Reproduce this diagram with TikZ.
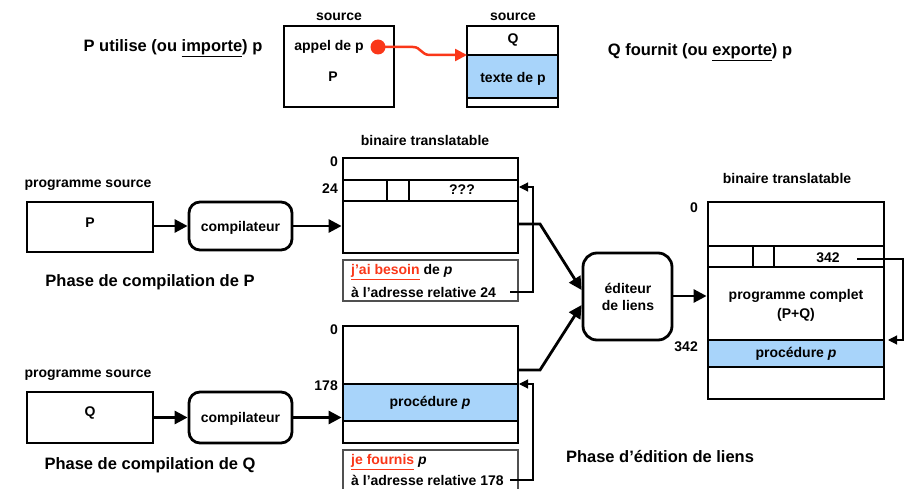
\documentclass[tikz,border=0pt]{standalone}
\usepackage{fontspec}
\setmainfont{Liberation Sans}
\usetikzlibrary{arrows.meta}
\definecolor{lblue}{RGB}{168,212,250}
\definecolor{myred}{RGB}{250,55,25}
\definecolor{notegray}{RGB}{80,80,80}
\begin{document}
\begin{tikzpicture}[x=1pt,y=-1pt,
 lbl/.style={font=\fontsize{14}{17}\selectfont\bfseries, inner sep=0},
 big/.style={font=\fontsize{16.5}{19}\selectfont\bfseries, inner sep=0},
 box/.style={draw, line width=2.8pt, inner sep=0},
 rbox/.style={box, rounded corners=11pt},
 div/.style={line width=1.1pt},
 note/.style={draw=notegray, line width=1.1pt, inner sep=0},
 arr/.style={line width=2.8pt, -{Triangle[length=13pt,width=13pt]}},
 fb/.style={line width=1.1pt, -{Triangle[length=9pt,width=9pt]}},
]
\useasboundingbox (0,0) rectangle (908,489);

% ---------- top part ----------
\node[big] (uses) at (173,48) {P utilise (ou \underline{importe}) p};
\node[big] (provides) at (700,52) {Q fournit (ou \underline{exporte}) p};

\node[box, minimum width=110, minimum height=81] (srcP) at (339,66.5) {};
\node[lbl] (srcPl) at (339,17) {source};
\node[lbl] (call) at (329,47) {appel de p};
\node[lbl] (Ptxt) at (333,77) {P};

\fill[lblue] (467,55) rectangle (558,98);
\draw[div] (467,55) -- (558,55);
\draw[div] (467,98) -- (558,98);
\node[box, minimum width=91, minimum height=81] (srcQ) at (512.5,66.5) {};
\node[lbl] (srcQl) at (513,17) {source};
\node[lbl] (Qtxt) at (513,40) {Q};
\node[lbl] (texte) at (513,79) {texte de p};

\node[circle, fill=myred, minimum size=15, inner sep=0] (dot) at (378,47) {};
\coordinate (qin) at (467,55);
\draw[myred, line width=2.5pt, -{Triangle[length=12pt,width=12pt]}]
  (dot.center) -- (413,47) .. controls (421,47) and (421,55) .. (430,55) -- (qin);

% ---------- compilation of P ----------
\node[lbl] (ps1) at (88,185) {programme source};
\node[box, minimum width=126, minimum height=50] (progP) at (90,227) {};
\node[lbl] (progPt) at (90,223) {P};
\node[rbox, minimum width=103, minimum height=48] (comp1) at (240.5,226) {};
\node[lbl] (comp1t) at (240.5,228) {compilateur};
\node[big] (phaseP) at (150,282) {Phase de compilation de P};
\draw[arr] (progP.east |- comp1.west) -- (comp1.west);

\node[lbl] (bt1) at (425,140) {binaire translatable};
\node[box, minimum width=175, minimum height=95] (bin1) at (430.5,205.5) {};
\draw[div] (343,180) -- (518,180);
\draw[div] (343,201) -- (518,201);
\draw[div] (387,180) -- (387,201);
\draw[div] (409,180) -- (409,201);
\node[lbl] (qqq) at (462,190) {???};
\node[lbl, anchor=east] (z1) at (338,162) {0};
\node[lbl, anchor=east] (a24) at (338,189) {24};
\draw[arr] (comp1.east) -- (bin1.west |- comp1.east);

\node[note, minimum width=175, minimum height=41] (note1) at (430.5,280.5) {};
\node[lbl, anchor=west] (need) at (351,272) {\textcolor{myred}{\underline{j’ai besoin}} de \textit{p}};
\node[lbl, anchor=west] (addr24) at (351,292) {à l’adresse relative 24};
\coordinate (fb1s) at (510,292);
\coordinate (fb1e) at (519,187);
\draw[fb] (fb1s) -- (533,292) -- (533,187) -- (fb1e);

% ---------- compilation of Q ----------
\node[lbl] (ps2) at (88,375) {programme source};
\node[box, minimum width=126, minimum height=51] (progQ) at (90,417.5) {};
\node[lbl] (progQt) at (90,413) {Q};
\node[rbox, minimum width=103, minimum height=51] (comp2) at (240.5,417.5) {};
\node[lbl] (comp2t) at (240.5,419) {compilateur};
\node[big] (phaseQ) at (150,465) {Phase de compilation de Q};
\draw[arr] (progQ.east |- comp2.west) -- (comp2.west);

\fill[lblue] (343,384) rectangle (518,421);
\draw[div] (343,384) -- (518,384);
\draw[div] (343,421) -- (518,421);
\node[box, minimum width=175, minimum height=117] (bin2) at (430.5,384.5) {};
\node[lbl] (proc1) at (430,403) {procédure \textit{p}};
\node[lbl, anchor=east] (z2) at (338,330) {0};
\node[lbl, anchor=east] (a178) at (338,386) {178};
\draw[arr] (comp2.east) -- (bin2.west |- comp2.east);

\node[note, minimum width=175, minimum height=40] (note2) at (430.5,470) {};
\node[lbl, anchor=west] (give) at (351,462) {\textcolor{myred}{\underline{je fournis}} \textit{p}};
\node[lbl, anchor=west] (addr178) at (351,480) {à l’adresse relative 178};
\coordinate (fb2s) at (510,480);
\coordinate (fb2e) at (519,384);
\draw[fb] (fb2s) -- (533,480) -- (533,384) -- (fb2e);

% ---------- link editing ----------
\node[rbox, rounded corners=14pt, minimum width=89, minimum height=87] (edit) at (627.5,296.5) {};
\node[lbl] (edit1) at (628,288) {éditeur};
\node[lbl] (edit2) at (628,305) {de liens};

\coordinate (b1out) at (518,224);
\coordinate (b2out) at (518,370);
\draw[arr] (b1out) -- (540,224) -- ([yshift=6.5pt]edit.west);
\draw[arr] (b2out) -- (540,370) -- ([yshift=-8.5pt]edit.west);

\node[lbl] (bt3) at (787,178) {binaire translatable};
\fill[lblue] (708,340) rectangle (884,367);
\draw[div] (708,246) -- (884,246);
\draw[div] (708,267) -- (884,267);
\draw[div] (753,246) -- (753,267);
\draw[div] (774,246) -- (774,267);
\draw[div] (708,340) -- (884,340);
\draw[div] (708,367) -- (884,367);
\node[box, minimum width=176, minimum height=197] (bin3) at (796,300.5) {};
\node[lbl] (v342) at (828,258) {342};
\node[lbl] (pc1) at (796,296) {programme complet};
\node[lbl] (pc2) at (796,315) {(P+Q)};
\node[lbl] (proc3) at (796,354) {procédure \textit{p}};
\node[lbl, anchor=east] (z3) at (698,208) {0};
\node[lbl, anchor=east] (a342) at (698,347) {342};
\draw[arr] (edit.east |- 0,296) -- (bin3.west |- 0,296);

\coordinate (fb3s) at (857,259);
\coordinate (fb3e) at (888,340);
\draw[fb] (fb3s) -- (903,259) -- (903,340) -- (fb3e);

\node[big] (phaseL) at (660,457) {Phase d’édition de liens};
\end{tikzpicture}
\end{document}
